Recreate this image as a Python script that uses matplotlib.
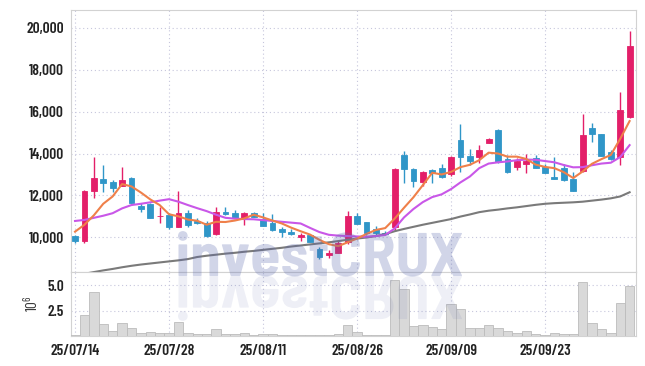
import matplotlib
matplotlib.use('Agg')
import matplotlib.pyplot as plt
from matplotlib.textpath import TextPath
from matplotlib.patches import PathPatch
from matplotlib.font_manager import FontProperties
from matplotlib.transforms import Affine2D
from matplotlib.ticker import FuncFormatter, FixedLocator

# daily candles, 25/07/14 .. (60 trading days)
opens = [10060, 9800, 12230, 12770, 12620, 12460, 12820, 11490, 11590, 11000,
         11060, 10510, 11150, 10790, 10700, 10140, 11190, 11170, 10940, 11150,
         10870, 10670, 10380, 10240, 10030, 10110, 9450, 9160, 9270, 9760,
         11000, 10720, 10400, 10220, 10480, 13920, 13260, 12650, 13210, 13290,
         13010, 14660, 13880, 13820, 14490, 15120, 13720, 13370, 13500, 13770,
         13370, 12860, 13290, 12780, 13170, 15230, 14930, 14050, 13850, 15760]
highs = [10100, 12250, 13820, 13450, 12730, 13340, 12860, 11650, 11650, 11430,
         11150, 12200, 11300, 10900, 10800, 11430, 11460, 11300, 11200, 11200,
         11150, 11100, 10500, 10380, 10220, 10110, 9520, 9400, 9830, 11270,
         11150, 10750, 10550, 10300, 13320, 14130, 13300, 13150, 13250, 13480,
         13900, 15410, 14200, 14410, 14750, 15170, 13930, 13800, 13960, 13930,
         13500, 13820, 13480, 13100, 15870, 15470, 14950, 14150, 16920, 19850]
lows = [9720, 9720, 11860, 12180, 12180, 12460, 11650, 11190, 10900, 10670,
        10400, 10500, 10500, 10620, 10000, 10100, 11060, 10900, 10590, 10950,
        10550, 10320, 10030, 10100, 9800, 9760, 8950, 9000, 9260, 9680,
        10620, 10100, 10060, 10100, 10300, 12580, 12380, 12460, 12600, 12840,
        12950, 13130, 13450, 13530, 14490, 13530, 13050, 13210, 13080, 13290,
        13050, 12780, 12690, 12220, 13130, 14540, 13880, 13690, 13450, 15680]
closes = [9800, 12200, 12820, 12580, 12370, 12720, 11650, 11370, 10940, 11040,
          10510, 11150, 10600, 10670, 10080, 11190, 11110, 10940, 11170, 10980,
          10550, 10350, 10270, 10160, 10110, 9760, 9080, 9240, 9720, 11000,
          10650, 10190, 10190, 10160, 13250, 13250, 12700, 13100, 13080, 12860,
          13850, 13850, 13660, 14170, 14690, 13610, 13100, 13660, 13640, 13320,
          13080, 12780, 12740, 12220, 14880, 14920, 13900, 13720, 16070, 19130]

# moving average lines
ma_short = [10270, 10600, 11050, 11600, 11950, 12540, 12430, 12140, 11810, 11540,
            11100, 11000, 10850, 10790, 10600, 10740, 10730, 10800, 10900, 11080,
            10950, 10800, 10660, 10460, 10290, 10130, 9880, 9670, 9580, 9760,
            9940, 10160, 10350, 10440, 10890, 11410, 11910, 12490, 13080, 13000,
            13120, 13350, 13460, 13680, 14040, 14000, 13850, 13850, 13740, 13470,
            13360, 13300, 13110, 12830, 13140, 13510, 13730, 13930, 14700, 15550]
ma_mid = [10780, 10830, 10930, 11030, 11150, 11380, 11540, 11600, 11670, 11750,
          11820, 11700, 11540, 11390, 11250, 11080, 10930, 10890, 10870, 10860,
          10820, 10780, 10740, 10700, 10660, 10450, 10250, 10120, 10080, 10060,
          10040, 10030, 10060, 10110, 10420, 10950, 11350, 11680, 11920, 12050,
          12300, 12620, 12900, 13300, 13520, 13580, 13620, 13680, 13710, 13700,
          13640, 13580, 13450, 13340, 13350, 13440, 13520, 13560, 13830, 14400]
ma_long = [8180, 8260, 8340, 8420, 8490, 8570, 8640, 8700, 8750, 8800,
           8850, 8900, 8960, 9060, 9120, 9170, 9220, 9260, 9310, 9350,
           9400, 9450, 9500, 9560, 9610, 9660, 9710, 9760, 9820, 9880,
           9940, 9990, 10060, 10150, 10290, 10400, 10500, 10600, 10690, 10780,
           10870, 10990, 11090, 11200, 11270, 11320, 11380, 11430, 11490, 11550,
           11600, 11630, 11650, 11670, 11700, 11750, 11800, 11860, 11950, 12150]

# volume in millions of shares
volume = [0.08, 2.02, 4.3, 1.22, 0.48, 1.32, 0.74, 0.29, 0.36, 0.27,
          0.29, 1.41, 0.27, 0.16, 0.16, 0.64, 0.16, 0.16, 0.26, 0.13,
          0.18, 0.16, 0.1, 0.1, 0.1, 0.13, 0.1, 0.1, 0.15, 1.06,
          0.38, 0.12, 0.12, 0.05, 5.54, 4.58, 0.96, 1.06, 0.9, 0.67,
          3.14, 2.66, 0.74, 0.83, 1.12, 0.74, 0.48, 0.32, 0.45, 0.16,
          0.08, 0.26, 0.16, 0.16, 5.29, 1.31, 0.64, 0.26, 3.24, 4.97]

tick_pos = [0, 10, 20, 30, 40, 50]
tick_labels = ['25/07/14', '25/07/28', '25/08/11', '25/08/26', '25/09/09', '25/09/23']
price_ticks = [10000, 12000, 14000, 16000, 18000, 20000]
vol_ticks = [2.5, 5.0]

plt.rcParams['font.family'] = ['Barlow Condensed', 'DejaVu Sans']
plt.rcParams['mathtext.fontset'] = 'custom'
plt.rcParams['mathtext.rm'] = 'Barlow Condensed'

W, H = 645, 366
fig = plt.figure(figsize=(W / 100, H / 100), dpi=100)
ax = fig.add_axes([71 / W, 1 - 272 / H, 565 / W, 262 / H])
axv = fig.add_axes([71 / W, 1 - 336 / H, 565 / W, 64 / H], sharex=ax)

up_col = '#e31f69'
down_col = '#3096c8'
grid_col = '#c6c6dc'
spine_col = '#d2d2d2'

x = list(range(len(closes)))
cols = [up_col if c >= o else down_col for o, c in zip(opens, closes)]
bodies = [c - o for o, c in zip(opens, closes)]

ax.vlines(x, lows, highs, colors=cols, linewidth=1.0, zorder=3)
ax.bar(x, bodies, bottom=opens, width=0.62, color=cols, edgecolor=cols, linewidth=0.6, zorder=4)

ax.plot(x, ma_long, color='#7a7a7a', lw=1.5, zorder=5)
ax.plot(x, ma_mid, color='#c957e8', lw=1.5, zorder=5)
ax.plot(x, ma_short, color='#ef804a', lw=1.5, zorder=6)

ax.set_xlim(-0.43, 59.68)
ax.set_ylim(8344, 20850)
ax.yaxis.set_major_locator(FixedLocator(price_ticks))
ax.yaxis.set_major_formatter(FuncFormatter(lambda v, p: f'{v:,.0f}'))

axv.bar(x, volume, width=1.0, color='#d9d9d9', edgecolor='#bcbcbc', linewidth=0.6, zorder=3)
axv.set_ylim(0, 6.3)
axv.yaxis.set_major_locator(FixedLocator(vol_ticks))
axv.yaxis.set_major_formatter(FuncFormatter(lambda v, p: f'{v:.1f}'))
axv.set_xticks(tick_pos, tick_labels)
axv.set_ylabel(r'$10^6$', fontsize=11, color='#333333', labelpad=5)

for a in (ax, axv):
    a.grid(True, linestyle=(0, (1, 2.5)), color=grid_col, linewidth=0.8, zorder=0)
    a.set_axisbelow(True)
    a.tick_params(length=0, labelsize=11, pad=5, labelcolor='#222222')
    for s in a.spines.values():
        s.set_color(spine_col)
        s.set_linewidth(0.8)

ax.tick_params(axis='x', labelbottom=False)
axv.tick_params(axis='x', pad=6)
plt.setp(ax.get_yticklabels(), fontweight=600)
plt.setp(axv.get_yticklabels(), fontweight=600)
plt.setp(axv.get_xticklabels(), fontweight=600)

# watermark + faded reflection
fp = FontProperties(family=['Barlow Semi Condensed', 'DejaVu Sans'], weight='bold')
tp = TextPath((0, 0), 'investCRUX', size=100, prop=fp)
bb = tp.get_extents()
sc = 284 / bb.width
x0 = 178 - bb.x0 * sc
y0 = H - 276
fig.add_artist(PathPatch(tp, transform=Affine2D().scale(sc).translate(x0, y0),
                         facecolor='#5a68ad', edgecolor='none', alpha=0.28, zorder=10))
fig.add_artist(PathPatch(tp, transform=Affine2D().scale(sc, -sc).translate(x0, y0),
                         facecolor='#5a68ad', edgecolor='none', alpha=0.1, zorder=10))

fig.savefig('out.png', dpi=100)
